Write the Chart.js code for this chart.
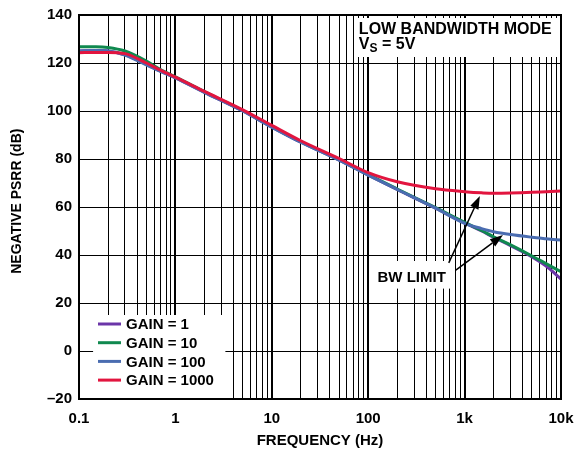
<!DOCTYPE html>
<html>
<head>
<meta charset="utf-8">
<script src="https://cdn.jsdelivr.net/npm/chart.js@4.4.0/dist/chart.umd.min.js"></script>
<style>
  html, body { margin: 0; padding: 0; background: #fff; }
</style>
</head>
<body>
<canvas id="psrr" width="574" height="450"></canvas>
<script>
// frequency points (Hz) and PSRR (dB) for each gain
const freq = [0.1, 0.15, 0.2, 0.3, 0.5, 0.7, 1, 2, 5, 10, 20, 50, 100, 200, 500, 1000, 1500, 2000, 3000, 5000, 7000, 10000];
const gain1 = [125, 125.2, 125, 123.4, 119.4, 116.6, 113.8, 107.8, 100, 93.3, 87, 79.5, 73.3, 67.3, 59.5, 53.4, 50, 47.4, 43.9, 39.2, 35.4, 30];
const gain10 = [126.8, 126.8, 126.5, 125, 120.8, 117.3, 114.2, 108.1, 100.2, 93.5, 87.2, 79.7, 73.5, 67.5, 59.7, 53.6, 50.2, 47.6, 44.2, 39.6, 36.4, 33];
const gain100 = [125, 125.2, 125, 123.3, 119.2, 116.5, 113.8, 107.8, 100, 93.3, 87, 79.5, 73.3, 67.3, 59.5, 53.2, 51, 49.7, 48.5, 47.4, 46.8, 46.2];
const gain1000 = [124.3, 124.4, 124.4, 123.9, 120, 117, 114.1, 108.2, 100.5, 94, 87.6, 80.2, 74.3, 70.5, 67.6, 66.4, 65.9, 65.7, 65.8, 66.1, 66.4, 66.7];

const seriesNames = ['GAIN = 1', 'GAIN = 10', 'GAIN = 100', 'GAIN = 1000'];
const seriesColors = ['#6b35a8', '#10894f', '#4a6cb0', '#e2153f'];

const xTickVals = [0.1, 1, 10, 100, 1000, 10000];
const xTickLabels = ['0.1', '1', '10', '100', '1k', '10k'];
const yMin = -20, yMax = 140, yStep = 20;

const FONT = '"Liberation Sans", Arial, Helvetica, sans-serif';

function pts(vals) {
  return freq.map((f, i) => ({ x: f, y: vals[i] }));
}

function isDecade(v) {
  const l = Math.log10(v);
  return Math.abs(l - Math.round(l)) < 1e-6;
}

function arrow(ctx, x1, y1, x2, y2) {
  const a = Math.atan2(y2 - y1, x2 - x1);
  const hl = 13, hw = 4.5;
  const bx = x2 - hl * Math.cos(a), by = y2 - hl * Math.sin(a);
  ctx.beginPath();
  ctx.moveTo(x1, y1);
  ctx.lineTo(bx, by);
  ctx.stroke();
  ctx.beginPath();
  ctx.moveTo(x2, y2);
  ctx.lineTo(bx + hw * Math.sin(a), by - hw * Math.cos(a));
  ctx.lineTo(bx - hw * Math.sin(a), by + hw * Math.cos(a));
  ctx.closePath();
  ctx.fill();
}

// white boxes, notes, legend and frame drawn on the plot
const notes = {
  id: 'notes',
  beforeDatasetsDraw(chart) {
    const { ctx, chartArea: a, scales: { x, y } } = chart;
    ctx.save();
    ctx.fillStyle = '#fff';
    // top right note box
    const bx = x.getPixelForValue(74);
    ctx.fillRect(bx, a.top + 3, a.right - bx, y.getPixelForValue(122.5) - a.top - 3);
    // legend box
    const lx1 = x.getPixelForValue(0.14), lx2 = x.getPixelForValue(3.3);
    const ly = y.getPixelForValue(15);
    ctx.fillRect(lx1, ly, lx2 - lx1, a.bottom - ly);
    // BW LIMIT box
    const wx1 = x.getPixelForValue(105), wx2 = x.getPixelForValue(760);
    const wy1 = y.getPixelForValue(37.5), wy2 = y.getPixelForValue(26);
    ctx.fillRect(wx1, wy1, wx2 - wx1, wy2 - wy1);
    ctx.restore();
  },
  afterDatasetsDraw(chart) {
    const { ctx, chartArea: a, scales: { x, y } } = chart;
    ctx.save();
    // frame
    ctx.strokeStyle = '#000';
    ctx.lineWidth = 2;
    ctx.strokeRect(a.left, a.top, a.right - a.left, a.bottom - a.top);

    ctx.fillStyle = '#000';
    ctx.textBaseline = 'middle';
    ctx.textAlign = 'left';
    // top right note
    ctx.font = 'bold 16px ' + FONT;
    const tx = x.getPixelForValue(80);
    ctx.fillText('LOW BANDWIDTH MODE', tx, y.getPixelForValue(133.8));
    const vy = y.getPixelForValue(127.5);
    ctx.fillText('V', tx, vy);
    const vw = ctx.measureText('V').width;
    ctx.font = 'bold 12px ' + FONT;
    ctx.fillText('S', tx + vw, vy + 4);
    const sw = ctx.measureText('S').width;
    ctx.font = 'bold 16px ' + FONT;
    ctx.fillText(' = 5V', tx + vw + sw, vy);

    // BW LIMIT label and arrows
    ctx.font = 'bold 15px ' + FONT;
    ctx.fillText('BW LIMIT', x.getPixelForValue(125), y.getPixelForValue(30.4));
    ctx.lineWidth = 1.5;
    arrow(ctx, x.getPixelForValue(685), y.getPixelForValue(36.7), x.getPixelForValue(1440), y.getPixelForValue(64.6));
    arrow(ctx, x.getPixelForValue(811), y.getPixelForValue(33.7), x.getPixelForValue(2500), y.getPixelForValue(48.3));

    // legend
    ctx.font = 'bold 15px ' + FONT;
    const sx1 = x.getPixelForValue(0.1) + 19, sx2 = sx1 + 23;
    seriesNames.forEach((name, i) => {
      const ry = y.getPixelForValue(yMin) - 75 + i * 18.7;
      ctx.strokeStyle = seriesColors[i];
      ctx.lineWidth = 3;
      ctx.beginPath();
      ctx.moveTo(sx1, ry);
      ctx.lineTo(sx2, ry);
      ctx.stroke();
      ctx.fillStyle = '#000';
      ctx.fillText(name, sx2 + 5, ry + 1);
    });
    ctx.restore();
  }
};

const series = [gain1, gain10, gain100, gain1000];
const drawOrder = [3, 2, 1, 0];

new Chart(document.getElementById('psrr'), {
  type: 'line',
  data: {
    datasets: series.map((vals, i) => ({
      label: seriesNames[i],
      data: pts(vals),
      borderColor: seriesColors[i],
      borderWidth: 3,
      pointRadius: 0,
      fill: false,
      cubicInterpolationMode: 'monotone',
      order: drawOrder[i]
    }))
  },
  options: {
    responsive: false,
    animation: false,
    devicePixelRatio: 1,
    layout: { padding: { top: 15, right: 13, left: 0, bottom: 0 } },
    plugins: { legend: { display: false }, tooltip: { enabled: false } },
    scales: {
      x: {
        type: 'logarithmic',
        min: 0.1,
        max: 10000,
        afterFit(scale) {
          scale.height = 51;
          scale.paddingLeft = 0;
          scale.paddingRight = 0;
        },
        afterBuildTicks(scale) {
          const t = [];
          for (let e = -1; e <= 3; e++) {
            for (let m = 1; m <= 9; m++) t.push({ value: +(m * Math.pow(10, e)).toPrecision(6) });
          }
          t.push({ value: 10000 });
          scale.ticks = t;
        },
        border: { display: false },
        grid: {
          color: '#000',
          drawTicks: false,
          lineWidth: (c) => (c.tick && isDecade(c.tick.value) ? 2 : 1)
        },
        ticks: {
          autoSkip: false,
          maxRotation: 0,
          padding: 11,
          color: '#000',
          font: { family: FONT, size: 15, weight: 'bold' },
          callback: (v) => {
            const k = xTickVals.findIndex((t) => Math.abs(t - v) / t < 1e-6);
            return k >= 0 ? xTickLabels[k] : '';
          }
        },
        title: {
          display: true,
          text: 'FREQUENCY (Hz)',
          color: '#000',
          font: { family: FONT, size: 15, weight: 'bold' },
          padding: { top: 0, bottom: 0 }
        }
      },
      y: {
        min: yMin,
        max: yMax,
        afterFit(scale) {
          scale.width = 79;
          scale.paddingTop = 0;
          scale.paddingBottom = 0;
        },
        border: { display: false },
        grid: { color: '#000', drawTicks: false, lineWidth: 1 },
        ticks: {
          stepSize: yStep,
          padding: 7,
          color: '#000',
          font: { family: FONT, size: 15, weight: 'bold' },
          callback: (v) => (v < 0 ? '\u2013' + Math.abs(v) : String(v))
        },
        title: {
          display: true,
          text: '\u00a0\u00a0\u00a0NEGATIVE PSRR (dB)',
          color: '#000',
          font: { family: FONT, size: 14, weight: 'bold' },
          padding: { top: 9, bottom: 0 }
        }
      }
    }
  },
  plugins: [notes]
});
</script>
</body>
</html>
